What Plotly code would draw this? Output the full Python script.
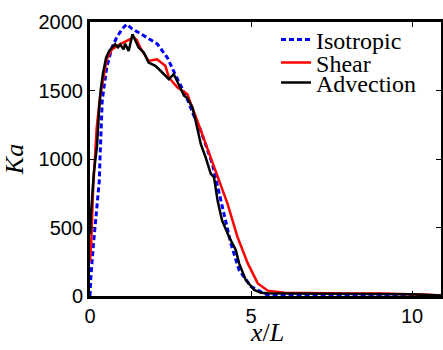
import plotly.graph_objects as go

# Isotropic profile (blue, dashed)
iso_x = [0, 0.02, 0.1, 0.21, 0.29, 0.31, 0.34, 0.38, 0.42, 0.52, 0.68, 0.83, 1.0, 1.14,
         1.31, 1.5, 1.78, 2.09, 2.4, 2.66, 3.0, 3.2, 3.44, 3.8, 4.06, 4.375, 4.63, 5.0,
         5.31, 5.5, 6.0, 7.0, 8.0, 9.0, 10.0, 10.9]
iso_y = [0, 116, 359, 676, 844, 1000, 1229, 1425, 1500, 1668, 1813, 1887, 1950, 1983,
         1950, 1925, 1885, 1840, 1740, 1610, 1450, 1330, 1207, 965, 698, 383, 189, 68,
         31, 10, 5, 3, 3, 3, 3, 2]

# Shear profile (red)
shear_x = [0, 0.04, 0.1, 0.16, 0.21, 0.31, 0.41, 0.52, 0.68, 0.94, 1.25, 1.35, 1.45,
           1.56, 1.82, 2.08, 2.34, 2.45, 2.71, 3.02, 3.33, 3.7, 3.9, 4.27, 4.58, 4.9,
           5.21, 5.52, 6.04, 7.0, 8.0, 9.0, 10.0, 10.5, 10.9]
shear_y = [250, 400, 800, 1013, 1231, 1450, 1595, 1728, 1800, 1838, 1875, 1887, 1870,
           1813, 1716, 1728, 1680, 1595, 1523, 1474, 1280, 1038, 916, 674, 431, 238,
           92, 39, 24, 20, 18, 18, 15, 10, 3]

# Advection profile (black)
adv_x = [0, 0.03, 0.12, 0.22, 0.28, 0.33, 0.4, 0.5, 0.6, 0.68, 0.78, 0.87, 0.94, 1.04,
         1.09, 1.2, 1.32, 1.51, 1.67, 1.82, 2.03, 2.19, 2.34, 2.45, 2.6, 2.76, 2.92,
         3.02, 3.18, 3.28, 3.44, 3.59, 3.75, 3.85, 3.96, 4.1, 4.32, 4.53, 4.63, 4.84,
         5.1, 5.31, 5.52, 6.0, 7.0, 8.0, 9.0, 10.0, 10.9]
adv_y = [450, 600, 900, 1100, 1350, 1500, 1620, 1740, 1790, 1810, 1838, 1815, 1835,
         1800, 1840, 1789, 1910, 1813, 1777, 1704, 1680, 1644, 1607, 1583, 1620, 1535,
         1462, 1445, 1377, 1280, 1110, 1013, 892, 868, 698, 553, 431, 335, 238, 116,
         44, 24, 20, 18, 16, 15, 15, 13, 3]

x_ticks = [0, 5, 10]
y_ticks = [0, 500, 1000, 1500, 2000]

fig = go.Figure()
fig.add_trace(go.Scatter(x=iso_x, y=iso_y, mode="lines", name="Isotropic",
                         line=dict(color="#0000ff", width=3, dash="5px,3px"),
                         legend="legend"))
fig.add_trace(go.Scatter(x=shear_x, y=shear_y, mode="lines", name="Shear",
                         line=dict(color="#ff0000", width=2.5), legend="legend2"))
fig.add_trace(go.Scatter(x=adv_x, y=adv_y, mode="lines", name="Advection",
                         line=dict(color="#000000", width=2.5), legend="legend3"))

leg_font = dict(family="Liberation Serif", size=24, color="black")
leg_common = dict(font=leg_font, bgcolor="rgba(0,0,0,0)", borderwidth=0,
                  xanchor="left", yanchor="middle", itemwidth=30, visible=True)

axis_common = dict(showline=True, linecolor="black", linewidth=3, mirror="ticks",
                   ticks="inside", ticklen=5, tickwidth=1, tickcolor="black",
                   showgrid=False, zeroline=False, automargin=False,
                   tickfont=dict(family="Liberation Sans", size=20, color="black"))

title_font = dict(family="Liberation Serif", size=26, color="black")

fig.update_layout(
    width=443, height=350,
    showlegend=True,
    margin=dict(l=90, r=2, t=22, b=54, autoexpand=False),
    plot_bgcolor="white", paper_bgcolor="white",
    legend=dict(x=0.53, y=0.935, **leg_common),
    legend2=dict(x=0.53, y=0.851, **leg_common),
    legend3=dict(x=0.53, y=0.778, **leg_common),
    xaxis=dict(range=[0, 10.9], tickvals=x_ticks, **axis_common),
    yaxis=dict(range=[0, 2000], tickvals=y_ticks,
               title=dict(text="<i>Ka</i>", standoff=8, font=title_font),
               **axis_common),
    annotations=[dict(text="<i>x</i>/<i>L</i>", xref="paper", yref="paper",
                      x=0.503, y=0, xanchor="center", yanchor="bottom",
                      yshift=-53, showarrow=False, font=title_font)],
)

fig.write_html("out.html")
